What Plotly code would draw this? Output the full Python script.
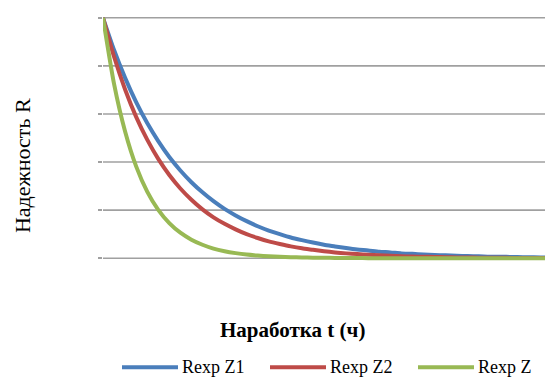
import plotly.graph_objects as go

# Operating time, hours
t_hours = [10 * i for i in range(41)]

# Reliability of subsystem Z1
r_z1 = [1.000, 0.866, 0.750, 0.649, 0.562, 0.487, 0.421, 0.365, 0.316, 0.274,
        0.237, 0.205, 0.178, 0.154, 0.133, 0.115, 0.100, 0.086, 0.075, 0.065,
        0.056, 0.049, 0.042, 0.036, 0.032, 0.027, 0.024, 0.020, 0.018, 0.015,
        0.013, 0.012, 0.010, 0.009, 0.008, 0.006, 0.006, 0.005, 0.004, 0.004,
        0.003]

# Reliability of subsystem Z2
r_z2 = [1.000, 0.838, 0.702, 0.588, 0.493, 0.413, 0.346, 0.290, 0.243, 0.203,
        0.170, 0.143, 0.120, 0.100, 0.084, 0.070, 0.059, 0.049, 0.041, 0.035,
        0.029, 0.024, 0.020, 0.017, 0.014, 0.012, 0.010, 0.008, 0.007, 0.006,
        0.005, 0.004, 0.003, 0.003, 0.002, 0.002, 0.002, 0.001, 0.001, 0.001,
        0.001]

# Reliability of the whole system Z
r_z = [1.000, 0.725, 0.527, 0.382, 0.277, 0.201, 0.146, 0.106, 0.077, 0.056,
       0.040, 0.029, 0.021, 0.015, 0.011, 0.008, 0.006, 0.004, 0.003, 0.002,
       0.002, 0.001, 0.001, 0.001, 0.000, 0.000, 0.000, 0.000, 0.000, 0.000,
       0.000, 0.000, 0.000, 0.000, 0.000, 0.000, 0.000, 0.000, 0.000, 0.000,
       0.000]

# Y grid levels
y_grid = [0.0, 0.2, 0.4, 0.6, 0.8, 1.0]

series = [
    ("Rexp Z1", r_z1, "#4a7ebb"),
    ("Rexp Z2", r_z2, "#be4b48"),
    ("Rexp Z", r_z, "#98b954"),
]

serif = "'Liberation Serif', 'Times New Roman', serif"

W, H = 547, 378
L, R, T, B = 103, 2, 13.2, 115.2
PW, PH = W - L - R, H - T - B

fig = go.Figure()
for name, vals, color in series:
    fig.add_trace(go.Scatter(
        x=t_hours, y=vals, name=name, mode="lines", showlegend=False,
        line=dict(color=color, width=4, shape="spline", smoothing=0.6),
    ))

# horizontal grid lines
shapes = [
    dict(type="line", xref="paper", yref="y", x0=0, x1=1, y0=v, y1=v,
         line=dict(color="#a0a0a0", width=1.6), layer="below")
    for v in y_grid
]

# legend row below the axis title: sample line + label for each series
annotations = []
leg_y = (H - B - 367) / PH
leg_x0 = [122, 270, 418]
for (name, _, color), x0 in zip(series, leg_x0):
    shapes.append(dict(
        type="line", xref="paper", yref="paper",
        x0=(x0 - L) / PW, x1=(x0 + 56 - L) / PW, y0=leg_y, y1=leg_y,
        line=dict(color=color, width=4)))
    annotations.append(dict(
        text=name, xref="paper", yref="paper", x=(x0 + 58 - L) / PW, y=leg_y,
        xanchor="left", yanchor="middle", showarrow=False,
        font=dict(family=serif, size=18, color="#000000")))

annotations += [
    dict(text="<b>Наработка t (ч)</b>", xref="paper", yref="paper",
         x=(292 - L) / PW, y=(H - B - 330) / PH,
         xanchor="center", yanchor="middle", showarrow=False,
         font=dict(family=serif, size=21, color="#000000")),
    dict(text="Надежность R", xref="paper", yref="paper",
         x=-(L - 22) / PW, y=(H - B - 166) / PH,
         xanchor="center", yanchor="middle", textangle=-90,
         showarrow=False,
         font=dict(family=serif, size=22, color="#000000")),
]

fig.update_layout(
    width=W, height=H,
    margin=dict(l=L, r=R, t=T, b=B),
    paper_bgcolor="white", plot_bgcolor="white",
    font=dict(family=serif, color="#000000"),
    showlegend=False,
    xaxis=dict(
        range=[0, 400], showgrid=False, showticklabels=False, ticks="",
        zeroline=False, showline=False,
    ),
    yaxis=dict(
        range=[-0.02, 1.02], tickvals=y_grid, showgrid=False,
        showticklabels=False, ticks="outside", ticklen=4, tickcolor="#a0a0a0",
        tickwidth=1.5, zeroline=False, showline=False,
    ),
    shapes=shapes,
    annotations=annotations,
)

fig.write_html("out.html")
